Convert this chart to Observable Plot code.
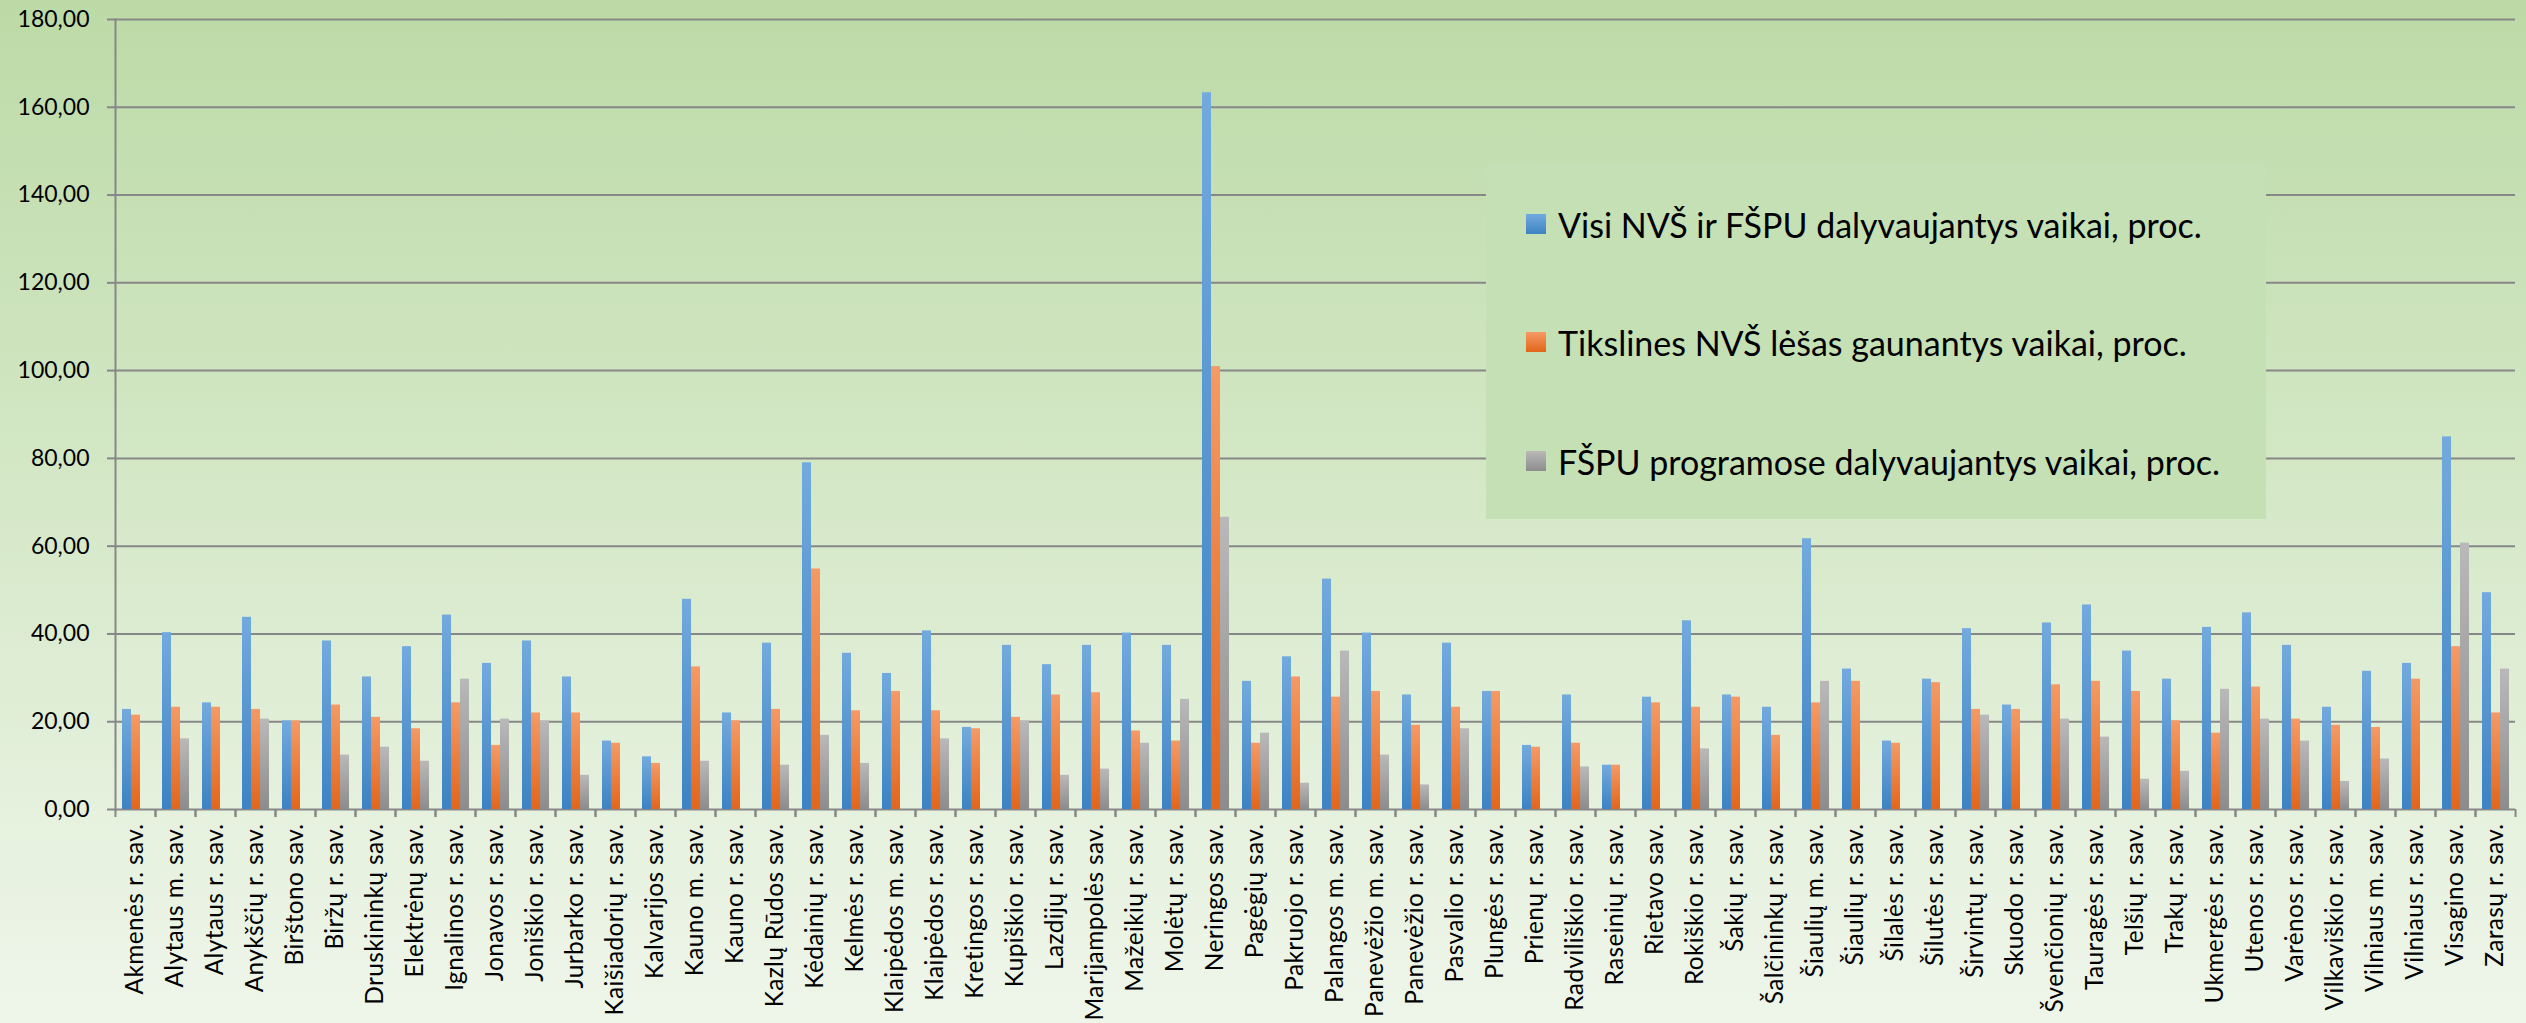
<!DOCTYPE html>
<html>
<head>
<meta charset="utf-8">
<script src="https://cdn.jsdelivr.net/npm/d3@7"></script>
<script src="https://cdn.jsdelivr.net/npm/@observablehq/plot@0.6"></script>
<style>
  html, body { margin: 0; padding: 0; }
  #wrap {
    position: relative; width: 2526px; height: 1023px; overflow: hidden;
    background: linear-gradient(to bottom, #bcdaa6 0%, #d3e7c5 45%, #e6f1de 80%, #eef6ea 100%);
    font-family: Lato, "Open Sans", sans-serif;
  }
  #legend {
    position: absolute; left: 1486px; top: 165px; width: 780px; height: 354px;
    background: #c5e0b4;
  }
  .item { position: absolute; left: 40px; display: flex; align-items: center; height: 40px; }
  .sw { width: 20px; height: 20px; margin-right: 12px; }
  .lbl { font-size: 34px; color: #000; white-space: nowrap; }
</style>
</head>
<body>
<div id="wrap"></div>
<script>
const categories = ["Akmenės r. sav.","Alytaus m. sav.","Alytaus r. sav.","Anykščių r. sav.","Birštono sav.","Biržų r. sav.","Druskininkų sav.","Elektrėnų sav.","Ignalinos r. sav.","Jonavos r. sav.","Joniškio r. sav.","Jurbarko r. sav.","Kaišiadorių r. sav.","Kalvarijos sav.","Kauno m. sav.","Kauno r. sav.","Kazlų Rūdos sav.","Kėdainių r. sav.","Kelmės r. sav.","Klaipėdos m. sav.","Klaipėdos r. sav.","Kretingos r. sav.","Kupiškio r. sav.","Lazdijų r. sav.","Marijampolės sav.","Mažeikių r. sav.","Molėtų r. sav.","Neringos sav.","Pagėgių sav.","Pakruojo r. sav.","Palangos m. sav.","Panevėžio m. sav.","Panevėžio r. sav.","Pasvalio r. sav.","Plungės r. sav.","Prienų r. sav.","Radviliškio r. sav.","Raseinių r. sav.","Rietavo sav.","Rokiškio r. sav.","Šakių r. sav.","Šalčininkų r. sav.","Šiaulių m. sav.","Šiaulių r. sav.","Šilalės r. sav.","Šilutės r. sav.","Širvintų r. sav.","Skuodo r. sav.","Švenčionių r. sav.","Tauragės r. sav.","Telšių r. sav.","Trakų r. sav.","Ukmergės r. sav.","Utenos r. sav.","Varėnos r. sav.","Vilkaviškio r. sav.","Vilniaus m. sav.","Vilniaus r. sav.","Visagino sav.","Zarasų r. sav."];

const seriesNames = ["Visi NVŠ ir FŠPU dalyvaujantys vaikai, proc.","Tikslines NVŠ lėšas gaunantys vaikai, proc.","FŠPU programose dalyvaujantys vaikai, proc."];

const visi = [22.8,40.3,24.3,43.8,20.2,38.4,30.2,37.1,44.3,33.3, 38.4,30.2,15.6,12.0,47.9,22.0,37.9,79.0,35.6,31.0, 40.7,18.7,37.4,33.0,37.4,40.2,37.4,163.3,29.2,34.8, 52.5,40.2,26.1,37.9,26.9,14.6,26.1,10.1,25.6,43.0, 26.1,23.3,61.7,32.0,15.6,29.7,41.2,23.8,42.5,46.6, 36.1,29.7,41.5,44.8,37.4,23.3,31.5,33.3,84.9,49.4];
const tikslines = [21.5,23.3,23.3,22.8,20.2,23.8,21.0,18.4,24.3,14.6, 22.0,22.0,15.1,10.5,32.5,20.2,22.8,54.8,22.5,26.9, 22.5,18.4,21.0,26.1,26.6,17.9,15.6,100.9,15.1,30.2, 25.6,26.9,19.2,23.3,26.9,14.2,15.1,10.1,24.3,23.3, 25.6,16.9,24.3,29.2,15.1,28.9,22.8,22.8,28.4,29.2, 26.9,20.2,17.4,27.9,20.6,19.2,18.7,29.7,37.1,22.0];
const fspu = [null,16.1,null,20.6,null,12.4,14.2,11.0,29.7,20.6, 20.2,7.8,null,null,11.0,null,10.1,16.9,10.5,null, 16.1,null,20.2,7.8,9.2,15.1,25.1,66.6,17.4,6.0, 36.1,12.4,5.6,18.4,null,null,9.7,null,null,13.8, null,null,29.2,null,null,null,21.5,null,20.6,16.5, 6.9,8.7,27.4,20.6,15.6,6.4,11.5,null,60.7,32.0];

const yTicks = [0,20,40,60,80,100,120,140,160,180];

const seriesValues = [visi, tikslines, fspu];
const gradIds = ["gBlue","gOrange","gGray"];
const gradStops = [["#72aade","#3d82c3"],["#f59a66","#e2661b"],["#b9b9b9","#8c8c8c"]];

const data = categories.flatMap((c, i) =>
  seriesNames.map((s, k) => ({cat: c, series: s, value: seriesValues[k][i]}))
).filter(d => d.value != null);

const W = 2526, H = 1023, mL = 113, mR = 10, mT = 19, mB = 214;
const step = (W - mL - mR) / categories.length;
const fmt = d => d3.format(".2f")(d).replace(".", ",");
const axisGray = "#878787";

const chart = Plot.plot({
  width: W, height: H,
  marginLeft: mL, marginRight: mR, marginTop: mT, marginBottom: mB,
  style: {background: "none", fontFamily: "Lato, 'Open Sans', sans-serif", color: "#000", overflow: "visible"},
  fx: {domain: categories, padding: 0, label: null},
  x: {domain: seriesNames, paddingInner: 0, paddingOuter: 0.72, axis: null},
  y: {domain: [0, 180], axis: null},
  color: {type: "ordinal", domain: seriesNames, range: gradIds.map(id => `url(#${id})`)},
  marks: [
    Plot.gridY(yTicks, {stroke: axisGray, strokeOpacity: 1, strokeWidth: 2}),
    Plot.barY(data, {fx: "cat", x: "series", y: "value", fill: "series"}),
    Plot.axisY(yTicks, {anchor: "left", tickSize: 8, tickPadding: 18, tickFormat: fmt, fontSize: 23, stroke: axisGray, strokeWidth: 2, fill: "#000", label: null}),
    Plot.frame({anchor: "left", facetAnchor: "left", stroke: axisGray, strokeWidth: 2}),
    Plot.axisFx({anchor: "bottom", tickSize: 0, tickPadding: 14, tickRotate: -90, fontSize: 24.5, fill: "#000", label: null}),
    Plot.axisFx({anchor: "bottom", tickSize: 8, dx: -step / 2, tickFormat: () => "", stroke: axisGray, strokeWidth: 2, label: null}),
    Plot.axisFx([categories[categories.length - 1]], {anchor: "bottom", tickSize: 8, dx: step / 2, tickFormat: () => "", stroke: axisGray, strokeWidth: 2, label: null})
  ]
});

const defs = d3.select(chart).insert("defs", ":first-child");
gradIds.forEach((id, k) => {
  const g = defs.append("linearGradient").attr("id", id).attr("x1", 0).attr("y1", 0).attr("x2", 0).attr("y2", 1);
  g.append("stop").attr("offset", "0%").attr("stop-color", gradStops[k][0]);
  g.append("stop").attr("offset", "100%").attr("stop-color", gradStops[k][1]);
});
d3.select(chart).selectAll('g[aria-label="fx-axis tick label"] text').style("letter-spacing", "0.35px");

const wrap = document.getElementById("wrap");
wrap.appendChild(chart);

const legend = document.createElement("div");
legend.id = "legend";
const rowCenters = [59, 177, 296];
seriesNames.forEach((s, k) => {
  const item = document.createElement("div");
  item.className = "item";
  item.style.top = (rowCenters[k] - 20) + "px";
  const sw = document.createElement("div");
  sw.className = "sw";
  sw.style.background = `linear-gradient(to bottom, ${gradStops[k][0]}, ${gradStops[k][1]})`;
  const lbl = document.createElement("span");
  lbl.className = "lbl";
  lbl.textContent = s;
  item.appendChild(sw); item.appendChild(lbl);
  legend.appendChild(item);
});
wrap.appendChild(legend);
</script>
</body>
</html>
